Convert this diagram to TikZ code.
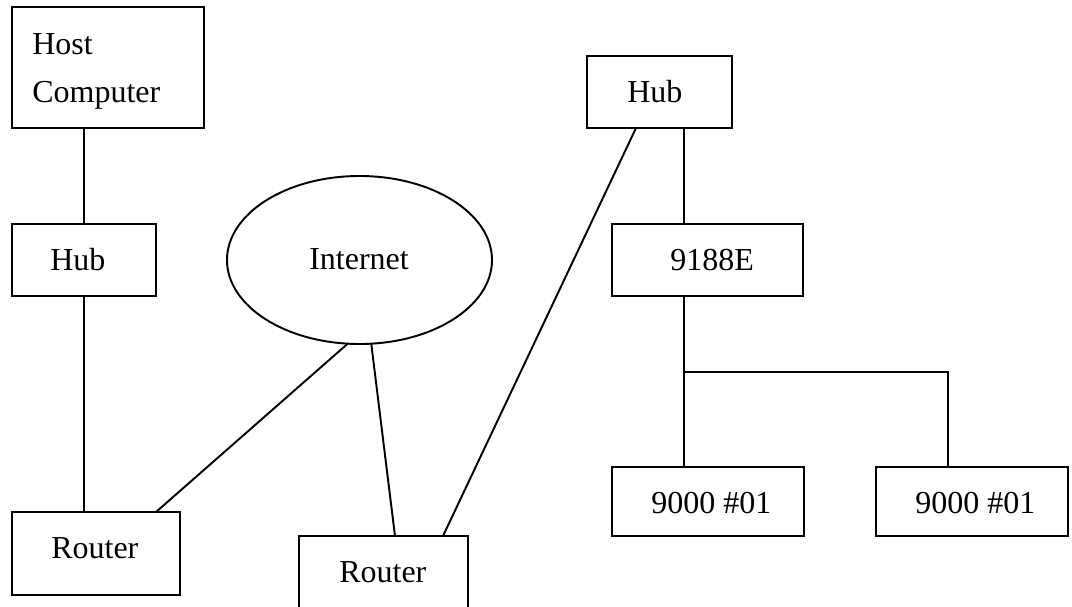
\documentclass[tikz,border=0pt]{standalone}
\usepackage{fontspec}
\setmainfont{Liberation Serif}
\usetikzlibrary{shapes.geometric,calc}
\begin{document}
\begin{tikzpicture}[x=0.75pt,y=-0.75pt,
  lw/.style={line width=1.45pt},
  box/.style={draw,lw,rectangle,inner sep=0pt,outer sep=0pt},
  cloud/.style={draw,lw,ellipse,inner sep=0pt,outer sep=0pt},
  lbl/.style={anchor=base west,inner sep=0pt,font=\fontsize{24}{36}\selectfont},
  wire/.style={lw}]
\useasboundingbox (0,0) rectangle (1072,607);
\fill[white] (0,0) rectangle (1072,607);
% boxes
\node[box,minimum width=144pt,minimum height=90.75pt] (hc) at (108,67.5) {};
\node[box,minimum width=108pt,minimum height=54pt] (hub1) at (84,260) {};
\node[box,minimum width=126pt,minimum height=62.25pt] (r1) at (96,553.5) {};
\node[box,minimum width=126.75pt,minimum height=63pt] (r2) at (383.5,578) {};
\node[box,minimum width=108.75pt,minimum height=54pt] (hub2) at (659.5,92) {};
\node[box,minimum width=143.25pt,minimum height=54pt] (e9188) at (707.5,260) {};
\node[box,minimum width=144pt,minimum height=51.75pt] (n1) at (708,501.5) {};
\node[box,minimum width=144pt,minimum height=51.75pt] (n2) at (972,501.5) {};
\node[cloud,minimum width=198.75pt,minimum height=126pt] (inet) at (359.5,260) {};
% labels
\node[lbl] (thost) at (32,54) {Host};
\node[lbl] (tcomp) at (32,102) {Computer};
\node[lbl] (thub1) at (50,270) {Hub};
\node[lbl] (tr1) at (51,558) {Router};
\node[lbl] (tinet) at (309,269) {Internet};
\node[lbl] (tr2) at (339,582) {Router};
\node[lbl] (thub2) at (627,102) {Hub};
\node[lbl] (te) at (670,270) {9188E};
\node[lbl] (tn1) at (651,513) {9000 \#01};
\node[lbl] (tn2) at (915,513) {9000 \#01};
% connectors
\draw[wire] (hub1.north) -- (hub1.north |- hc.south);
\draw[wire] (hub1.south) -- (hub1.south |- r1.north);
\coordinate (r1a) at ($(r1.north east)+(-24,0)$);
\coordinate (r2a) at ($(r2.north west)+(96,0)$);
\coordinate (r2b) at ($(r2.north west)+(144,0)$);
\draw[wire] (inet.-98) -- (r1a);
\draw[wire] (inet.-82) -- (r2a);
\coordinate (h2a) at ($(hub2.south west)+(49,0)$);
\draw[wire] (h2a) -- (r2b);
\coordinate (h2b) at ($(hub2.south west)+(97,0)$);
\draw[wire] (h2b) -- (h2b |- e9188.north);
\coordinate (eb) at (h2b |- e9188.south);
\coordinate (j) at ($(eb)+(0,76)$);
\coordinate (n2a) at ($(n2.north west)+(72,0)$);
\draw[wire] (eb) -- (eb |- n1.north);
\draw[wire] (j) -| (n2a);
\end{tikzpicture}
\end{document}
